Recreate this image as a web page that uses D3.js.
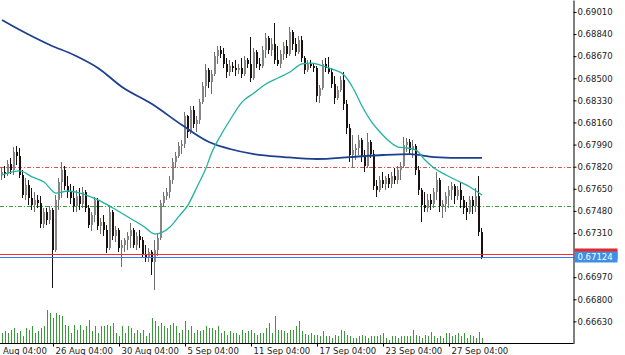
<!DOCTYPE html>
<html>
<head>
<meta charset="utf-8">
<script src="https://cdn.jsdelivr.net/npm/d3@7/dist/d3.min.js"></script>
<style>
  body { margin: 0; background: #fff; }
  svg { display: block; font-family: "DejaVu Sans", sans-serif; font-size: 8.5px; }
</style>
</head>
<body>
<svg id="chart" width="625" height="355"></svg>
<script>
// H4 candles
var opens = [0.67756,0.67779,0.67764,0.67840,0.67794,0.67933,0.67902,0.67756,0.67602,0.67679,
  0.67579,0.67525,0.67564,0.67540,0.67379,0.67471,0.67410,0.67487,0.67179,0.67564,
  0.67702,0.67794,0.67671,0.67625,0.67579,0.67517,0.67594,0.67533,0.67625,0.67502,
  0.67371,0.67448,0.67564,0.67364,0.67394,0.67333,0.67194,0.67471,0.67287,0.67333,
  0.67194,0.67217,0.67256,0.67287,0.67333,0.67217,0.67287,0.67256,0.67140,0.67117,
  0.67164,0.67087,0.67179,0.67271,0.67540,0.67594,0.67625,0.67717,0.67856,0.67902,
  0.67979,0.67994,0.68210,0.68087,0.68256,0.68148,0.68179,0.68317,0.68440,0.68564,
  0.68471,0.68533,0.68671,0.68717,0.68687,0.68610,0.68548,0.68594,0.68579,0.68564,
  0.68579,0.68533,0.68641,0.68610,0.68502,0.68702,0.68610,0.68594,0.68717,0.68810,
  0.68717,0.68764,0.68641,0.68610,0.68687,0.68748,0.68687,0.68856,0.68764,0.68702,
  0.68794,0.68656,0.68564,0.68610,0.68594,0.68579,0.68364,0.68425,0.68610,0.68579,
  0.68548,0.68456,0.68348,0.68410,0.68487,0.68302,0.68117,0.67910,0.67948,0.67964,
  0.68025,0.67902,0.67825,0.68010,0.67917,0.67671,0.67641,0.67717,0.67687,0.67733,
  0.67687,0.67748,0.67717,0.67794,0.67825,0.67987,0.68010,0.67948,0.67979,0.67794,
  0.67641,0.67525,0.67502,0.67564,0.67533,0.67625,0.67717,0.67517,0.67533,0.67594,
  0.67641,0.67671,0.67594,0.67641,0.67564,0.67502,0.67471,0.67564,0.67517,0.67594,
  0.67317];
var highs = [0.67810,0.67825,0.67871,0.67887,0.67971,0.67979,0.67964,0.67794,0.67733,0.67717,
  0.67656,0.67625,0.67602,0.67594,0.67502,0.67502,0.67517,0.67502,0.67602,0.67733,
  0.67856,0.67825,0.67748,0.67687,0.67671,0.67641,0.67656,0.67664,0.67641,0.67525,
  0.67471,0.67587,0.67579,0.67425,0.67448,0.67371,0.67525,0.67487,0.67364,0.67348,
  0.67256,0.67271,0.67317,0.67387,0.67348,0.67317,0.67333,0.67279,0.67217,0.67194,
  0.67179,0.67256,0.67310,0.67564,0.67625,0.67656,0.67748,0.67887,0.67933,0.68010,
  0.68025,0.68240,0.68217,0.68287,0.68287,0.68210,0.68341,0.68471,0.68610,0.68579,
  0.68564,0.68702,0.68748,0.68748,0.68733,0.68656,0.68641,0.68625,0.68641,0.68610,
  0.68656,0.68671,0.68656,0.68817,0.68733,0.68717,0.68656,0.68748,0.68848,0.68825,
  0.68810,0.68925,0.68748,0.68717,0.68779,0.68794,0.68894,0.68871,0.68810,0.68825,
  0.68825,0.68671,0.68641,0.68641,0.68610,0.68594,0.68448,0.68641,0.68656,0.68664,
  0.68579,0.68517,0.68440,0.68517,0.68548,0.68333,0.68148,0.68064,0.67994,0.68064,
  0.68041,0.67948,0.68079,0.68025,0.67948,0.67717,0.67748,0.67779,0.67748,0.67764,
  0.67779,0.67810,0.67825,0.67856,0.68048,0.68041,0.68033,0.68025,0.67994,0.67825,
  0.67656,0.67625,0.67610,0.67610,0.67656,0.67779,0.67733,0.67564,0.67625,0.67671,
  0.67702,0.67687,0.67671,0.67702,0.67594,0.67548,0.67594,0.67594,0.67656,0.67748,
  0.67348];
var lows = [0.67717,0.67733,0.67748,0.67764,0.67756,0.67833,0.67733,0.67579,0.67564,0.67525,
  0.67487,0.67471,0.67502,0.67348,0.67348,0.67371,0.67379,0.66887,0.67164,0.67487,
  0.67579,0.67641,0.67579,0.67533,0.67471,0.67471,0.67487,0.67502,0.67471,0.67348,
  0.67325,0.67394,0.67333,0.67302,0.67287,0.67156,0.67179,0.67256,0.67240,0.67164,
  0.67048,0.67164,0.67179,0.67194,0.67194,0.67179,0.67194,0.67117,0.67087,0.67087,
  0.66987,0.66871,0.67133,0.67256,0.67517,0.67564,0.67579,0.67687,0.67810,0.67887,
  0.67917,0.67964,0.68041,0.68071,0.68117,0.68087,0.68148,0.68302,0.68356,0.68425,
  0.68379,0.68517,0.68610,0.68656,0.68579,0.68502,0.68517,0.68548,0.68517,0.68533,
  0.68502,0.68517,0.68579,0.68471,0.68487,0.68579,0.68564,0.68579,0.68656,0.68687,
  0.68671,0.68610,0.68594,0.68579,0.68641,0.68656,0.68671,0.68717,0.68671,0.68687,
  0.68625,0.68533,0.68548,0.68579,0.68548,0.68317,0.68310,0.68410,0.68548,0.68533,
  0.68425,0.68302,0.68333,0.68394,0.68256,0.68071,0.67856,0.67810,0.67871,0.67910,
  0.67856,0.67779,0.67810,0.67887,0.67641,0.67587,0.67625,0.67656,0.67641,0.67656,
  0.67656,0.67687,0.67687,0.67717,0.67810,0.67933,0.67910,0.67887,0.67756,0.67602,
  0.67394,0.67471,0.67471,0.67487,0.67502,0.67564,0.67471,0.67425,0.67471,0.67502,
  0.67564,0.67533,0.67564,0.67502,0.67456,0.67410,0.67456,0.67456,0.67471,0.67287,
  0.67110];
var closes = [0.67779,0.67764,0.67840,0.67794,0.67933,0.67902,0.67756,0.67602,0.67679,0.67579,
  0.67525,0.67564,0.67540,0.67379,0.67471,0.67410,0.67487,0.67179,0.67564,0.67702,
  0.67794,0.67671,0.67625,0.67579,0.67517,0.67594,0.67533,0.67625,0.67502,0.67371,
  0.67448,0.67564,0.67364,0.67394,0.67333,0.67194,0.67471,0.67287,0.67333,0.67194,
  0.67217,0.67256,0.67287,0.67333,0.67217,0.67287,0.67256,0.67140,0.67117,0.67164,
  0.67087,0.67179,0.67271,0.67540,0.67594,0.67625,0.67717,0.67856,0.67902,0.67979,
  0.67994,0.68210,0.68087,0.68256,0.68148,0.68179,0.68317,0.68440,0.68564,0.68471,
  0.68533,0.68671,0.68717,0.68687,0.68610,0.68548,0.68594,0.68579,0.68564,0.68579,
  0.68533,0.68641,0.68610,0.68502,0.68702,0.68610,0.68594,0.68717,0.68810,0.68717,
  0.68764,0.68641,0.68610,0.68687,0.68748,0.68687,0.68856,0.68764,0.68702,0.68794,
  0.68656,0.68564,0.68610,0.68594,0.68579,0.68364,0.68425,0.68610,0.68579,0.68548,
  0.68456,0.68348,0.68410,0.68487,0.68302,0.68117,0.67910,0.67948,0.67964,0.68025,
  0.67902,0.67825,0.68010,0.67917,0.67671,0.67641,0.67717,0.67687,0.67733,0.67687,
  0.67748,0.67717,0.67794,0.67825,0.67987,0.68010,0.67948,0.67979,0.67794,0.67641,
  0.67525,0.67502,0.67564,0.67533,0.67625,0.67717,0.67517,0.67533,0.67594,0.67641,
  0.67671,0.67594,0.67641,0.67564,0.67502,0.67471,0.67564,0.67517,0.67594,0.67317,
  0.67124];
// tick volumes
var volumes = [1000,1200,1000,1300,1500,1000,1200,700,1500,1300,
  1700,1000,1200,1500,1700,3300,3000,2500,3000,2800,
  2700,1800,1700,1000,1800,1300,1800,1300,1700,2300,
  1200,1700,1000,1700,1700,1800,1700,2000,1000,700,
  1700,1000,1700,1500,1000,1300,1000,1300,700,1000,
  2500,2200,1700,2000,1700,1500,1800,2000,1700,1000,
  1300,2200,1300,1700,1000,1300,1200,1300,1700,1500,
  1500,1300,1700,1000,1200,800,1200,1000,1000,800,
  1300,1000,1200,1300,1000,800,1000,1000,1500,2000,
  1000,2700,1300,1300,1200,1000,1300,1300,1700,2200,
  1200,900,800,1000,800,800,700,1200,700,700,
  500,800,700,1300,1200,800,700,500,500,700,
  800,700,500,700,700,700,800,1000,500,300,
  700,700,500,700,700,700,700,1300,800,700,
  500,800,700,1100,700,500,700,500,1000,1000,
  700,800,1000,700,1000,500,800,700,500,1100,
  500];

// moving averages, sampled at candle indexes
var fastMaIdx = [0,6,10,14,18,22,26,32,37,42,47,51,53,56,59,62,65,68,70,73,76,80,84,88,92,96,100,103,106,110,114,117,120,123,126,129,132,135,138,141,144,148,152,156,160];
var fastMa = [0.67756,0.67787,0.67741,0.67702,0.67617,0.67633,0.67617,0.67564,0.67502,0.67433,
  0.67364,0.67302,0.67310,0.67356,0.67440,0.67525,0.67664,0.67810,0.67933,0.68064,
  0.68179,0.68317,0.68387,0.68456,0.68502,0.68548,0.68610,0.68617,0.68602,0.68571,
  0.68525,0.68425,0.68287,0.68171,0.68087,0.68017,0.67971,0.67964,0.67948,0.67871,
  0.67810,0.67756,0.67710,0.67664,0.67602];
var slowMaIdx = [0,6,16,24,32,40,50,60,69,76,84,94,105,116,127,136,144,155,160];
var slowMa = [0.68948,0.68871,0.68756,0.68679,0.68579,0.68433,0.68302,0.68140,0.68010,0.67956,
  0.67917,0.67894,0.67879,0.67894,0.67910,0.67917,0.67894,0.67887,0.67887];

var priceTicks = [0.69010,0.68840,0.68670,0.68500,0.68330,0.68160,0.67990,0.67820,0.67650,0.67480,0.67310,0.66970,0.66800,0.66630];
var timeTickIdx = [-5,17,39,61,83,105,127,149];
var timeTickLabels = ['22 Aug 04:00','26 Aug 04:00','30 Aug 04:00','5 Sep 04:00','11 Sep 04:00','17 Sep 04:00','23 Sep 04:00','27 Sep 04:00'];

var redLevel = 0.67820;
var greenLevel = 0.67520;
var bid = 0.67124;
var ask = 0.67144;

var axisX = 573.5, axisY = 343.5;
var svg = d3.select('#chart');

var x = d3.scaleLinear().domain([0, closes.length - 1]).range([2, 482]);
var y = d3.scaleLinear().domain([0.66460, 0.69102]).range([axisY, 0]);
var yVol = d3.scaleLinear().domain([0, 3500]).range([343, 308]);

function crisp(v) { return Math.round(v) + 0.5; }

// dash-dot levels
[[redLevel, '#d9534a'], [greenLevel, '#3aa03a']].forEach(function(l) {
  svg.append('line')
    .attr('x1', 0).attr('x2', axisX)
    .attr('y1', crisp(y(l[0]))).attr('y2', crisp(y(l[0])))
    .attr('stroke', l[1]).attr('stroke-width', 1)
    .attr('stroke-dasharray', '4,2,1,2');
});

// volumes
svg.append('g').selectAll('line')
  .data(volumes)
  .enter()
  .append('line')
  .attr('x1', function(d, i) { return Math.round(x(i)) + 0.5; })
  .attr('x2', function(d, i) { return Math.round(x(i)) + 0.5; })
  .attr('y1', yVol(0))
  .attr('y2', function(d) { return yVol(d); })
  .attr('stroke', '#3a9a3a')
  .attr('stroke-width', 1);

// candles
var candles = svg.append('g').selectAll('g')
  .data(closes)
  .enter()
  .append('g');

candles.append('line')
  .attr('x1', function(d, i) { return Math.round(x(i)) - 0.5; })
  .attr('x2', function(d, i) { return Math.round(x(i)) - 0.5; })
  .attr('y1', function(d, i) { return y(highs[i]); })
  .attr('y2', function(d, i) { return y(lows[i]); })
  .attr('stroke', function(d, i) { return d >= opens[i] ? '#6e6e6e' : '#141010'; })
  .attr('stroke-width', 1);

candles.append('rect')
  .attr('x', function(d, i) { return Math.round(x(i)) - 1; })
  .attr('width', 2)
  .attr('y', function(d, i) { return Math.min(y(opens[i]), y(d)); })
  .attr('height', function(d, i) { return Math.max(1, Math.abs(y(opens[i]) - y(d))); })
  .attr('fill', function(d, i) { return d >= opens[i] ? '#858585' : '#1a1010'; });

// moving averages
var maLine = d3.line()
  .x(function(d) { return x(d[0]); })
  .y(function(d) { return y(d[1]); })
  .curve(d3.curveMonotoneX);

svg.append('path')
  .attr('d', maLine(slowMaIdx.map(function(d, i) { return [d, slowMa[i]]; })))
  .attr('fill', 'none').attr('stroke', '#1c3f8e').attr('stroke-width', 1.8);

svg.append('path')
  .attr('d', maLine(fastMaIdx.map(function(d, i) { return [d, fastMa[i]]; })))
  .attr('fill', 'none').attr('stroke', '#20b2a0').attr('stroke-width', 1.3);

// bid / ask lines
svg.append('line')
  .attr('x1', 0).attr('x2', axisX)
  .attr('y1', crisp(y(ask)) - 1).attr('y2', crisp(y(ask)) - 1)
  .attr('stroke', '#ff2a2a').attr('stroke-width', 1);
svg.append('line')
  .attr('x1', 0).attr('x2', axisX)
  .attr('y1', crisp(y(bid))).attr('y2', crisp(y(bid)))
  .attr('stroke', '#2f7bff').attr('stroke-width', 1);

// price axis
var yAxis = d3.axisRight(y)
  .tickValues(priceTicks)
  .tickFormat(d3.format('.5f'))
  .tickSize(3)
  .tickSizeOuter(0)
  .tickPadding(1);

var gy = svg.append('g')
  .attr('transform', 'translate(' + axisX + ',0)')
  .call(yAxis);
gy.select('.domain').attr('stroke', '#000');
gy.selectAll('.tick line').attr('stroke', '#000');
gy.selectAll('.tick text').attr('fill', '#222').style('font-size', '8.5px').style('font-family', '"DejaVu Sans", sans-serif');

// time axis
var xAxis = d3.axisBottom(x)
  .tickValues(timeTickIdx)
  .tickFormat(function(d, k) { return timeTickLabels[k]; })
  .tickSize(3)
  .tickSizeOuter(0)
  .tickPadding(1);

var gx = svg.append('g')
  .attr('transform', 'translate(0,' + axisY + ')')
  .call(xAxis);
gx.select('.domain').remove();
gx.selectAll('.tick line').attr('stroke', '#000');
gx.selectAll('.tick text')
  .attr('text-anchor', 'start')
  .attr('x', 2)
  .attr('fill', '#222')
  .style('font-size', '8.5px')
  .style('font-family', '"DejaVu Sans", sans-serif');

svg.append('line')
  .attr('x1', 0).attr('x2', axisX)
  .attr('y1', axisY).attr('y2', axisY)
  .attr('stroke', '#000');

// price labels on the scale: ask box sits behind the bid box
svg.append('rect')
  .attr('x', axisX + 1).attr('y', Math.round(y(ask)) - 6.5)
  .attr('width', 43).attr('height', 11)
  .attr('fill', '#e4282b');
svg.append('rect')
  .attr('x', axisX + 1).attr('y', Math.round(y(bid)) - 5.5)
  .attr('width', 43).attr('height', 11)
  .attr('fill', '#3f8fe6');
svg.append('text')
  .attr('x', axisX + 4).attr('y', y(bid))
  .attr('dy', '0.35em')
  .attr('fill', '#fff')
  .text(d3.format('.5f')(bid));
</script>
</body>
</html>
